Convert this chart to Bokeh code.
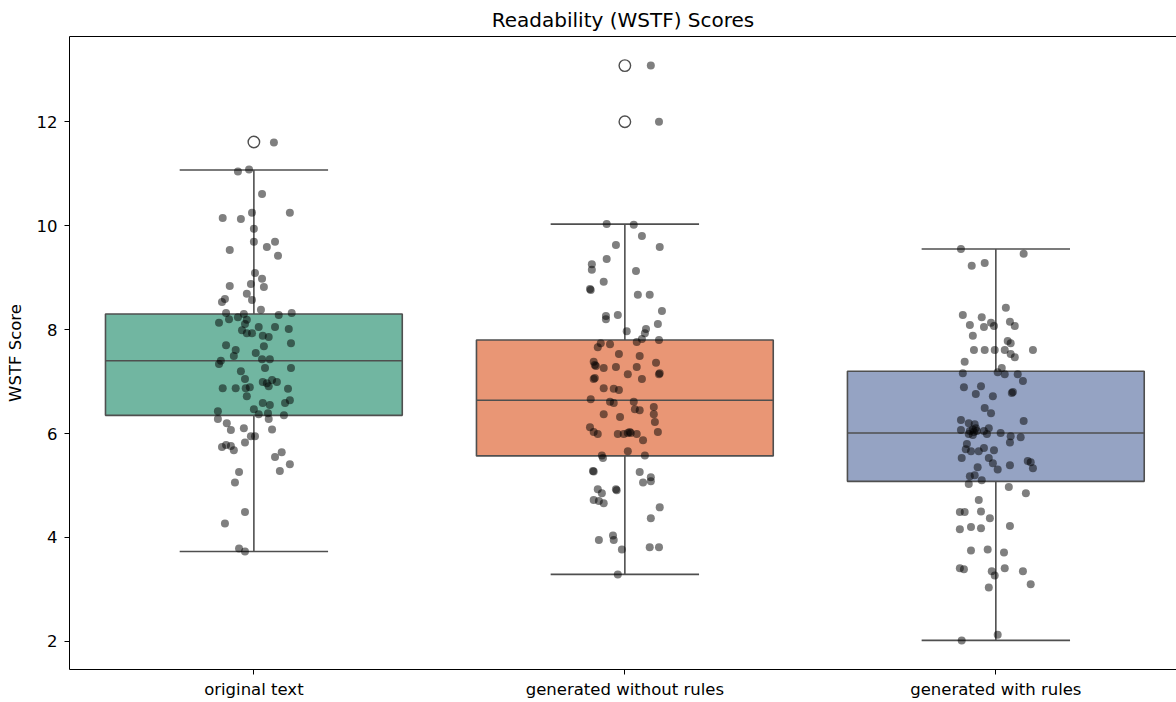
from bokeh.plotting import figure
from bokeh.models import Range1d, FixedTicker, ColumnDataSource, LinearAxis
from bokeh.embed import file_html
from bokeh.resources import INLINE

categories = ["original text", "generated without rules", "generated with rules"]
box_colors = ["#71b6a1", "#e99675", "#95a3c3"]

q1 = [6.35, 5.57, 5.08]
median = [7.40, 6.64, 6.01]
q3 = [8.30, 7.80, 7.20]
whisk_lo = [3.73, 3.29, 2.02]
whisk_hi = [11.07, 10.03, 9.55]

outlier_cat = [0, 1, 1]
outlier_val = [11.61, 12.00, 13.08]

orig_vals = [11.60, 11.04, 11.08, 10.61, 10.15, 10.13, 10.25, 10.25, 9.94, 9.69, 9.69, 9.53, 9.59, 9.42, 9.09, 8.98, 8.84, 8.88, 8.82,
             8.59, 8.53, 8.69, 8.57, 8.38, 8.32, 8.24, 8.30, 8.32, 8.28,
             8.20, 8.19, 8.13, 8.11, 8.05, 8.05, 8.01, 7.99, 7.93, 7.93,
             7.88, 7.86, 7.70, 7.74, 7.68, 7.61, 7.49, 7.55, 7.40, 7.34,
             7.43, 7.43, 7.26, 7.26, 7.20, 7.05, 6.99, 6.97, 7.03, 6.99,
             6.91, 6.87, 6.87, 6.87, 6.89, 6.86, 6.72, 6.64, 6.59, 6.59,
             6.55, 6.47, 6.43, 6.37, 6.39, 6.35, 6.28, 6.28, 6.20, 6.07,
             6.10, 6.08,
             5.95, 5.95, 5.83, 5.74, 5.78, 5.76, 5.68, 5.64, 5.55, 5.41, 5.28, 5.26, 5.06, 4.49, 4.27, 3.79, 3.73]
orig_jit = [0.054, -0.043, -0.013, 0.022, -0.084, -0.035, -0.005, 0.097, 0.000, 0.000, 0.057, -0.065, 0.035, 0.065, 0.003, 0.022, -0.065, -0.008, 0.027,
            -0.078, -0.086, -0.019, -0.005, 0.019, -0.075, -0.043, -0.027, 0.102, 0.067,
            -0.067, -0.019, -0.094, -0.024, 0.013, 0.057, 0.094, -0.032, -0.019, -0.005,
            0.024, 0.040, -0.075, 0.100, 0.027, -0.049, -0.054, 0.005, -0.089, -0.094,
            0.022, 0.043, 0.030, 0.100, -0.035, -0.024, 0.024, 0.035, 0.049, 0.062,
            0.040, -0.084, -0.049, -0.022, -0.011, 0.092, -0.019, 0.097, 0.084, 0.024,
            0.043, 0.000, -0.097, 0.013, 0.038, 0.081, -0.097, 0.040, -0.073, -0.062,
            -0.027, 0.049,
            -0.008, 0.003, -0.024, -0.086, -0.075, -0.062, -0.054, 0.075, 0.057, 0.097, 0.070, -0.040, -0.051, -0.024, -0.078, -0.040, -0.024]

norules_vals = [13.08, 12.00, 10.03, 10.02, 9.80, 9.63, 9.59, 9.36, 9.26, 9.15, 9.13, 8.92, 8.78, 8.76, 8.67, 8.67,
                8.26, 8.20, 8.28, 8.36, 8.11, 7.97, 8.01, 7.93, 7.82, 7.76,
                7.80, 7.74, 7.66, 7.72, 7.53, 7.49, 7.38, 7.32, 7.30, 7.36,
                7.26, 7.28, 7.28, 7.14, 7.16, 7.14, 7.07, 7.05, 7.05, 6.87,
                6.86, 6.84, 6.66, 6.61, 6.59, 6.61, 6.51, 6.47, 6.45, 6.37,
                6.37, 6.32, 6.22, 6.12, 6.03, 5.99, 5.99, 5.99, 6.03, 6.01,
                6.01, 5.99, 6.03, 5.87,
                5.66, 5.58, 5.53, 5.58, 5.28, 5.27, 5.26, 5.16, 5.08, 5.06,
                4.93, 4.85, 4.93, 4.91, 4.72, 4.70, 4.66, 4.58, 4.37, 4.04,
                3.95, 3.95, 3.77, 3.81, 3.81, 3.29]
norules_jit = [0.070, 0.092, -0.049, 0.024, 0.046, -0.024, 0.094, -0.049, -0.089, -0.089, 0.030, -0.057, -0.094, -0.092, 0.035, 0.067,
               -0.051, -0.051, -0.019, 0.100, 0.089, 0.005, 0.057, 0.054, 0.046, 0.032,
               0.092, -0.065, -0.073, -0.040, -0.016, 0.040, -0.084, -0.081, -0.078, 0.084,
               -0.057, -0.024, 0.032, 0.008, 0.094, 0.092, -0.081, -0.084, 0.046, -0.057,
               -0.030, -0.016, -0.092, -0.040, -0.030, 0.024, 0.078, 0.027, 0.040, 0.078,
               -0.057, -0.013, 0.081, -0.094, -0.084, -0.073, -0.019, -0.003, 0.013, 0.016,
               0.008, 0.032, 0.089, 0.049,
               0.008, -0.062, -0.059, 0.054, -0.086, -0.084, 0.040, 0.070, 0.070, 0.049,
               -0.073, -0.062, -0.024, -0.022, -0.084, -0.070, -0.057, 0.094, 0.070, -0.032,
               -0.030, -0.070, -0.008, 0.067, 0.092, -0.019]

rules_vals = [9.55, 9.46, 9.23, 9.28, 8.42, 8.28, 8.24, 8.09, 8.05, 8.13,
              8.07, 8.15, 8.07, 7.88, 7.78, 7.74, 7.61, 7.61, 7.61, 7.61,
              7.61, 7.53, 7.47, 7.38, 7.26, 7.16, 7.18, 7.14, 7.14, 7.01,
              6.89, 6.91, 6.76, 6.72, 6.80, 6.78, 6.49, 6.39, 6.24, 6.26,
              6.20, 6.18, 6.10, 6.07, 6.05, 6.03, 6.05, 6.08, 5.99, 5.97,
              6.05, 5.99, 6.10, 6.01, 5.95, 5.93, 5.83, 5.80, 5.70, 5.66,
              5.66, 5.72, 5.68, 5.53, 5.53, 5.43, 5.31, 5.35, 5.39, 5.47,
              5.45, 5.33, 5.18, 5.20, 5.10, 5.03, 4.97, 4.85, 4.72, 4.49,
              4.49, 4.50, 4.37, 4.22, 4.16, 4.20, 4.18, 3.75, 3.77, 3.71,
              3.41, 3.39, 3.35, 3.27, 3.41, 3.35, 3.10, 3.04, 2.13, 2.02]
rules_jit = [-0.094, 0.075, -0.065, -0.030, 0.027, -0.089, -0.038, -0.070, -0.032, -0.013,
             -0.005, 0.038, 0.051, -0.062, 0.032, 0.040, -0.059, -0.030, -0.003, 0.024,
             0.100, 0.040, 0.051, -0.084, 0.016, -0.089, 0.005, 0.024, 0.059, 0.073,
             -0.086, -0.040, -0.054, -0.008, 0.046, 0.043, -0.030, -0.013, 0.075, -0.094,
             -0.073, -0.057, -0.054, -0.094, -0.070, -0.059, -0.051, -0.062, -0.073, -0.062,
             -0.032, -0.024, -0.019, 0.013, 0.040, 0.067, 0.038, -0.078, -0.081, -0.067,
             -0.046, -0.032, -0.005, -0.092, -0.019, -0.008, 0.005, -0.049, 0.038, 0.086,
             0.094, 0.100, -0.070, -0.057, -0.038, -0.073, 0.035, 0.081, -0.046, -0.097,
             -0.084, -0.040, -0.016, 0.038, -0.097, -0.067, -0.040, -0.067, -0.022, 0.022,
             -0.097, -0.086, -0.011, -0.003, 0.024, 0.073, 0.094, -0.019, 0.005, -0.092]

FONT = "DejaVu Sans"
LINE = "#4f4f4f"

p = figure(width=1176, height=702,
           x_range=Range1d(-0.497, 2.487), y_range=Range1d(1.46, 13.64),
           output_backend="svg", toolbar_location=None,
           title="Readability (WSTF) Scores",
           min_border_left=69, min_border_right=0, min_border_top=34, min_border_bottom=33)
p.title.align = "center"
p.title.text_font = FONT
p.title.text_font_size = "20px"
p.title.text_font_style = "normal"
p.title.text_color = "black"
p.grid.visible = False
p.outline_line_color = None
p.background_fill_color = "white"
p.border_fill_color = "white"

idx = list(range(len(categories)))

p.xaxis.ticker = FixedTicker(ticks=idx)
p.xaxis.major_label_overrides = {i: c for i, c in enumerate(categories)}
p.yaxis.ticker = FixedTicker(ticks=[2, 4, 6, 8, 10, 12])
p.yaxis.axis_label = "WSTF Score"
for ax in (p.xaxis, p.yaxis):
    ax.major_label_text_font = FONT
    ax.major_label_text_font_size = "16.5px"
    ax.major_label_text_color = "black"
    ax.axis_label_text_font = FONT
    ax.axis_label_text_font_size = "16.5px"
    ax.axis_label_text_font_style = "normal"
    ax.axis_label_text_color = "black"
    ax.axis_line_color = "black"
    ax.axis_line_width = 1
    ax.major_tick_line_color = "black"
    ax.major_tick_in = 0
    ax.major_tick_out = 5
    ax.minor_tick_line_color = None
p.xaxis.major_label_standoff = 5
p.yaxis.major_label_standoff = 7
p.yaxis.axis_label_standoff = 9

top_ax = LinearAxis(ticker=FixedTicker(ticks=[]), major_tick_line_color=None,
                    minor_tick_line_color=None, major_label_text_font_size="0px",
                    axis_line_color="black", axis_line_width=1,
                    major_tick_out=0, major_tick_in=0, major_label_standoff=0)
p.add_layout(top_ax, "above")

box_src = ColumnDataSource(dict(
    x=idx, q1=q1, q3=q3, med=median, lo=whisk_lo, hi=whisk_hi,
    left=[i - 0.2 for i in idx], right=[i + 0.2 for i in idx],
    bl=[i - 0.4 for i in idx], br=[i + 0.4 for i in idx],
    color=box_colors))

p.vbar(x="x", width=0.8, bottom="q1", top="q3", fill_color="color",
       line_color=LINE, line_width=1.6, source=box_src)
p.segment(x0="x", y0="q1", x1="x", y1="lo", line_color=LINE, line_width=1.6, source=box_src)
p.segment(x0="x", y0="q3", x1="x", y1="hi", line_color=LINE, line_width=1.6, source=box_src)
p.segment(x0="left", y0="lo", x1="right", y1="lo", line_color=LINE, line_width=1.6, source=box_src)
p.segment(x0="left", y0="hi", x1="right", y1="hi", line_color=LINE, line_width=1.6, source=box_src)
p.segment(x0="bl", y0="med", x1="br", y1="med", line_color=LINE, line_width=1.6, source=box_src)

p.scatter(x=outlier_cat, y=outlier_val, size=11.5, fill_color=None,
          line_color=LINE, line_width=1.4)

groups = [(orig_vals, orig_jit), (norules_vals, norules_jit), (rules_vals, rules_jit)]
xs, ys = [], []
for i, (vals, jit) in enumerate(groups):
    n = min(len(vals), len(jit))
    xs += [i + j for j in jit[:n]]
    ys += vals[:n]
p.scatter(x=xs, y=ys, size=8, fill_color="black", fill_alpha=0.5, line_color=None)

open("out.html", "w").write(file_html(p, INLINE))
